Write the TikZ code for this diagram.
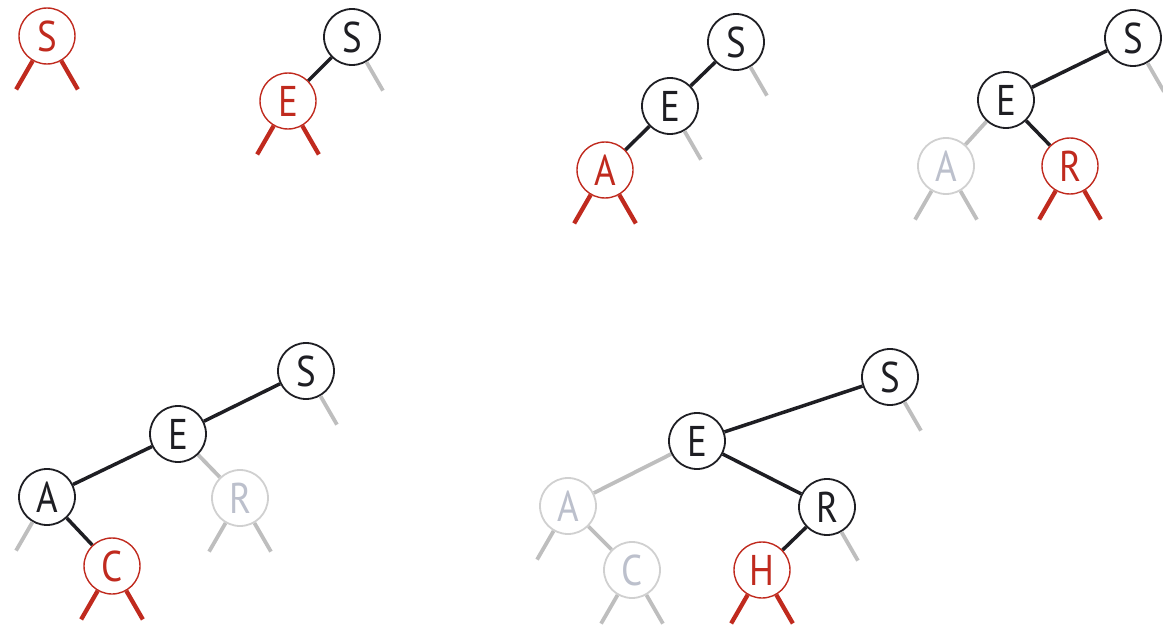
\documentclass[tikz,border=0pt]{standalone}
\usepackage{fontspec}
\setmainfont{PT Sans}[FakeStretch=0.86]
\usetikzlibrary{backgrounds}
\definecolor{ink}{RGB}{30,30,35}
\definecolor{pale}{RGB}{190,190,190}
\definecolor{palering}{RGB}{208,208,208}
\definecolor{paletext}{RGB}{188,192,204}
\definecolor{hot}{RGB}{192,42,30}
\tikzset{
  nd/.style={circle,minimum size=56pt,inner sep=0pt,fill=white,
    font=\fontsize{43}{43}\selectfont},
  bn/.style={nd,draw=ink,line width=1.8pt,text=ink},
  gn/.style={nd,draw=palering,line width=1.8pt,text=paletext},
  rn/.style={nd,draw=hot,line width=1.4pt,text=hot},
  blk/.style={draw=ink,line width=3.5pt},
  gry/.style={draw=pale,line width=3.8pt},
  hotl/.style={draw=hot,line width=4.3pt}
}
\begin{document}
\begin{tikzpicture}[x=1pt,y=1pt]
\useasboundingbox (0,0) rectangle (1163,-626);

% insert S
\node[rn] (a1) at (47,-36) {S};
\draw[hotl] (a1.-120) -- ++(-120:33pt);
\draw[hotl] (a1.-60) -- ++(-60:33pt);

% insert E
\node[bn] (b1) at (352,-37) {S};
\node[rn] (b2) at (288,-101) {E};
\draw[gry] (b1.-60) -- ++(-60:33pt);
\draw[hotl] (b2.-120) -- ++(-120:33pt);
\draw[hotl] (b2.-60) -- ++(-60:33pt);
\draw[blk] (b1) -- (b2);

% insert A
\node[bn] (c1) at (736,-42) {S};
\node[bn] (c2) at (670,-106) {E};
\node[rn] (c3) at (605,-170) {A};
\draw[gry] (c1.-60) -- ++(-60:33pt);
\draw[gry] (c2.-60) -- ++(-60:33pt);
\draw[hotl] (c3.-120) -- ++(-120:33pt);
\draw[hotl] (c3.-60) -- ++(-60:33pt);
\draw[blk] (c1) -- (c2);
\draw[blk] (c2) -- (c3);

% insert R
\node[bn] (d1) at (1133,-38) {S};
\node[bn] (d2) at (1006,-100) {E};
\node[gn] (d3) at (946,-166) {A};
\node[rn] (d4) at (1070,-166) {R};
\draw[gry] (d1.-60) -- ++(-60:33pt);
\draw[gry] (d3.-120) -- ++(-120:33pt);
\draw[gry] (d3.-60) -- ++(-60:33pt);
\draw[hotl] (d4.-120) -- ++(-120:33pt);
\draw[hotl] (d4.-60) -- ++(-60:33pt);
\begin{scope}[on background layer]
\draw[blk] (d1) -- (d2);
\draw[gry] (d2) -- (d3);
\draw[blk] (d2) -- (d4);
\end{scope}

% insert C
\node[bn] (e1) at (306,-371) {S};
\node[bn] (e2) at (178,-434) {E};
\node[bn] (e3) at (47,-497) {A};
\node[gn] (e4) at (240,-498) {R};
\node[rn] (e5) at (112,-566) {C};
\draw[gry] (e1.-60) -- ++(-60:33pt);
\draw[gry] (e3.-120) -- ++(-120:33pt);
\draw[gry] (e4.-120) -- ++(-120:33pt);
\draw[gry] (e4.-60) -- ++(-60:33pt);
\draw[hotl] (e5.-120) -- ++(-120:33pt);
\draw[hotl] (e5.-60) -- ++(-60:33pt);
\begin{scope}[on background layer]
\draw[blk] (e1) -- (e2);
\draw[blk] (e2) -- (e3);
\draw[gry] (e2) -- (e4);
\draw[blk] (e3) -- (e5);
\end{scope}

% insert H
\node[bn] (f1) at (890,-377) {S};
\node[bn] (f2) at (697,-441) {E};
\node[gn] (f3) at (568,-506) {A};
\node[gn] (f4) at (632,-570) {C};
\node[bn] (f5) at (827,-507) {R};
\node[rn] (f6) at (762,-570) {H};
\draw[gry] (f1.-60) -- ++(-60:33pt);
\draw[gry] (f3.-120) -- ++(-120:33pt);
\draw[gry] (f4.-120) -- ++(-120:33pt);
\draw[gry] (f4.-60) -- ++(-60:33pt);
\draw[gry] (f5.-60) -- ++(-60:33pt);
\draw[hotl] (f6.-120) -- ++(-120:33pt);
\draw[hotl] (f6.-60) -- ++(-60:33pt);
\begin{scope}[on background layer]
\draw[blk] (f1) -- (f2);
\draw[gry] (f2) -- (f3);
\draw[gry] (f3) -- (f4);
\draw[blk] (f2) -- (f5);
\draw[blk] (f5) -- (f6);
\end{scope}
\end{tikzpicture}
\end{document}
